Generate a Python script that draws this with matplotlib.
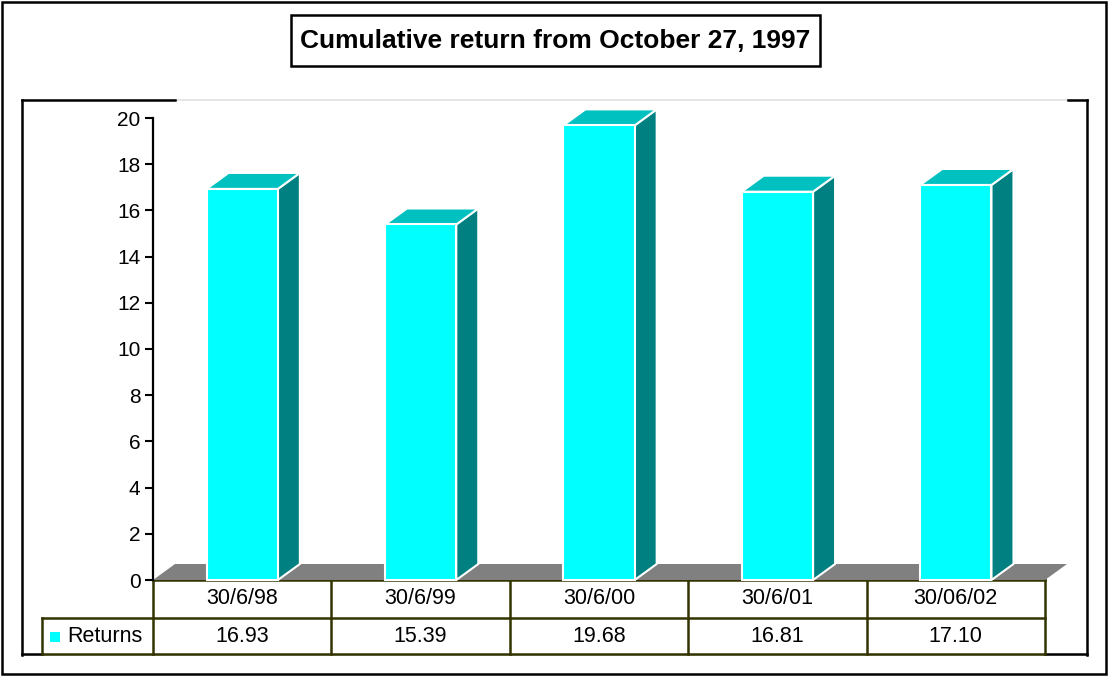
import matplotlib
matplotlib.use("Agg")
import matplotlib.pyplot as plt
from matplotlib.patches import Polygon, Rectangle
from matplotlib.transforms import blended_transform_factory

plt.rcParams['font.family'] = ['Liberation Sans', 'DejaVu Sans']

# data
dates = ['30/6/98', '30/6/99', '30/6/00', '30/6/01', '30/06/02']
returns = [16.93, 15.39, 19.68, 16.81, 17.10]
series_name = 'Returns'
yticks = [0, 2, 4, 6, 8, 10, 12, 14, 16, 18, 20]

W, H = 1109, 677
fig = plt.figure(figsize=(W / 100, H / 100), dpi=100)

# overlay in pixel coordinates for frames, title and table rows
fr = fig.add_axes([0, 0, 1, 1])
fr.set_xlim(0, W)
fr.set_ylim(H, 0)
fr.axis('off')

# plot axes: x from 153 to 1045 px, y from 580 (0) to 118 (20)
ax = fig.add_axes([153 / W, 1 - 580 / H, (1045 - 153) / W, (580 - 118) / H])
ax.set_xlim(-0.5, len(dates) - 0.5)
ax.set_ylim(0, 20)
ax.patch.set_alpha(0)
for s in ['top', 'right', 'bottom']:
    ax.spines[s].set_visible(False)
ax.spines['left'].set_linewidth(1.6)
ax.set_xticks([])
ax.set_yticks(yticks)
ax.tick_params(axis='y', length=6, width=1.5, direction='out', labelsize=15, pad=3)

# 3D depth offsets in data units
dx = 22 / ((1045 - 153) / len(dates))
dy = 16 / ((580 - 118) / 20)
bw = 0.4

# floor
n = len(dates)
ax.add_patch(Polygon([(-0.5, 0), (n - 0.5, 0), (n - 0.5 + dx, dy), (-0.5 + dx, dy)],
                     closed=True, facecolor='#808080', edgecolor='none', clip_on=False, zorder=1))

# bars
for i, v in enumerate(returns):
    l, r = i - bw / 2, i + bw / 2
    ax.add_patch(Polygon([(r, 0), (r + dx, dy), (r + dx, v + dy), (r, v)], closed=True,
                         facecolor='#008080', edgecolor='white', lw=1.5, clip_on=False, zorder=2))
    ax.add_patch(Polygon([(l, v), (r, v), (r + dx, v + dy), (l + dx, v + dy)], closed=True,
                         facecolor='#00C0C0', edgecolor='white', lw=1.5, clip_on=False, zorder=2))
    ax.add_patch(Rectangle((l, 0), bw, v, facecolor='#00FFFF', edgecolor='white',
                           lw=1.5, clip_on=False, zorder=3))

# outer border
fr.add_patch(Rectangle((2, 2), W - 5, H - 5, fill=False, edgecolor='black', lw=1.8))

# inner frame: gray outline with black segments
fr.plot([22, 1087], [100, 100], color='#e0e0e0', lw=1.2)
fr.plot([22, 1087], [655, 655], color='#d0d0d0', lw=1.2)
fr.plot([22, 175], [100, 100], color='black', lw=1.8)
fr.plot([1068, 1087], [100, 100], color='black', lw=1.8)
fr.plot([22, 22], [100, 655], color='black', lw=1.8)
fr.plot([1087, 1087], [100, 655], color='black', lw=1.8)
fr.plot([22, 42], [654, 654], color='black', lw=1.8)
fr.plot([1045, 1087], [654, 654], color='black', lw=1.8)

# title box
fr.add_patch(Rectangle((291, 15), 529, 51, facecolor='white', edgecolor='black', lw=1.8))
fr.text(555.5, 41, 'Cumulative return from October 27, 1997', ha='center', va='center',
        fontsize=19, fontweight='bold')

# data table under the axis
tr = blended_transform_factory(ax.transData, fr.transData)
tc = '#333300'
row_top, row_mid, row_bot = 580, 618, 654
legend_left = -0.5 - (153 - 42) / ((1045 - 153) / n)
fr.plot([-0.5, n - 0.5], [row_top, row_top], color=tc, lw=1.8, transform=tr)
fr.plot([legend_left, n - 0.5], [row_mid, row_mid], color=tc, lw=1.8, transform=tr)
fr.plot([legend_left, n - 0.5], [row_bot, row_bot], color=tc, lw=1.8, transform=tr)
fr.plot([legend_left, legend_left], [row_mid, row_bot], color=tc, lw=1.8, transform=tr)
for k in range(n + 1):
    fr.plot([k - 0.5, k - 0.5], [row_top, row_bot], color=tc, lw=1.8, transform=tr)
for i, (d, v) in enumerate(zip(dates, returns)):
    fr.text(i, (row_top + row_mid) / 2, d, ha='center', va='center', fontsize=15.5, transform=tr)
    fr.text(i, (row_mid + row_bot) / 2, f'{v:.2f}', ha='center', va='center', fontsize=15.5, transform=tr)

# legend key inside the table
fr.add_patch(Rectangle((50, 632), 10, 10, facecolor='#00FFFF', edgecolor='none'))
fr.text(67, 637, series_name, ha='left', va='center', fontsize=15.5)

fig.savefig('out.png', dpi=100)
